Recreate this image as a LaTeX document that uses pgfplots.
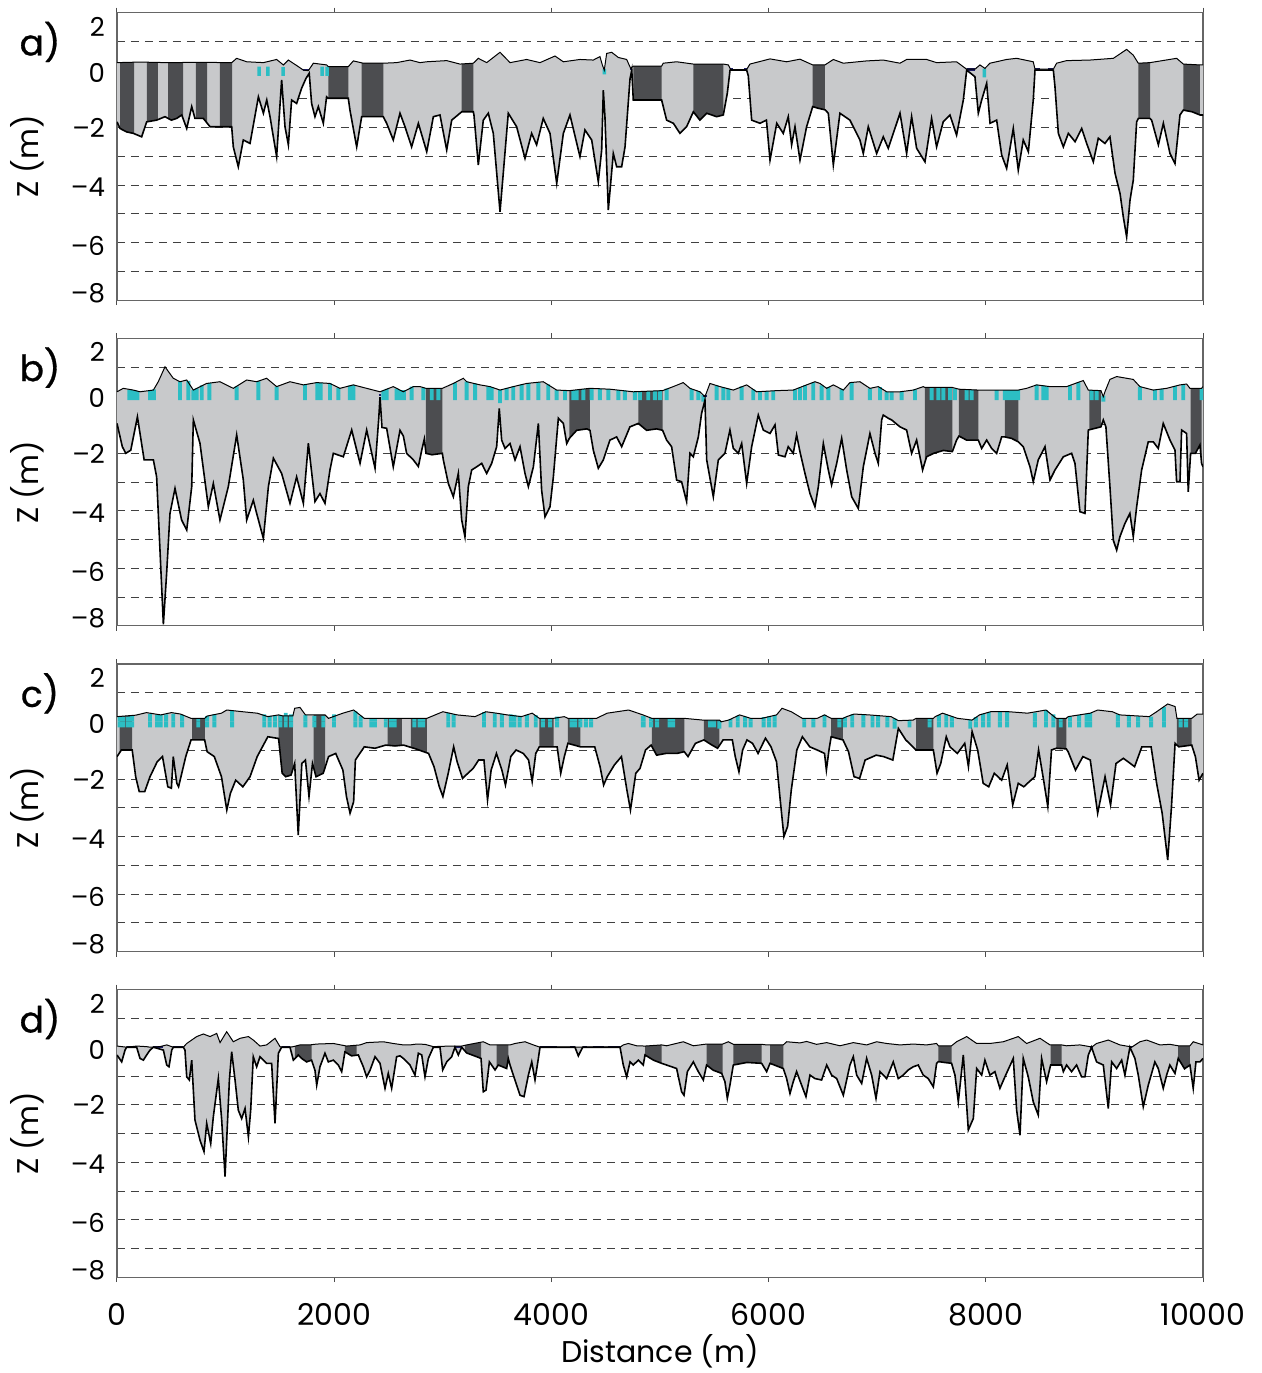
\documentclass[border=0pt]{standalone}
\usepackage{fontspec}
\setmainfont{Poppins}
\usepackage{pgfplots}
\usepackage{pgfplotstable}
\pgfplotsset{compat=1.18}
\usepgfplotslibrary{fillbetween}
\definecolor{iceL}{RGB}{200,201,203}
\definecolor{iceD}{RGB}{76,77,80}
\definecolor{pond}{RGB}{44,190,196}
\definecolor{lead}{RGB}{28,28,100}
\newcommand{\panlab}{\fontsize{18}{20}\selectfont\addfontfeature{FakeBold=0.8}}

\pgfplotsset{panel/.style={
  width=543pt, height=143.75pt, scale only axis,
  xmin=0, xmax=10000, ymin=-8, ymax=2,
  xtick={0,2000,4000,6000,8000,10000}, xticklabels={,,,,,},
  scaled x ticks=false, scaled y ticks=false,
  ytick={-7.75,-6.11,-4.08,-2.02,-0.09,1.51},
  yticklabels={–8,–6,–4,–2,0,2},
  minor ytick={-8,-7,...,2},
  yminorgrids=true,
  minor grid style={black!75, line width=0.45pt, dash pattern=on 4pt off 3pt},
  ytick style={draw=none}, minor tick length=0pt,
  tick align=outside, major tick length=2.5pt,
  xtick style={black!70, line width=0.5pt},
  axis line style={black!60, line width=0.6pt},
  yticklabel style={font=\fontsize{13}{15}\selectfont},
  xticklabel style={font=\fontsize{15}{18}\selectfont, yshift=-7pt},
  ylabel={Z (m)},
  every axis y label/.style={at={(axis description cs:-0.083,0.5)}, rotate=90, anchor=center, font=\fontsize{15}{18}\selectfont},
}}

% ---------------- panel a ----------------
\pgfplotstableread[row sep=\\]{x t\\0 0.26\\212 0.28\\458 0.26\\764 0.27\\1056 0.26\\1102 0.41\\1194 0.29\\1348 0.26\\1470 0.37\\1532 0.18\\1578 0.35\\1670 0.12\\1716 0.0\\1762 -0.02\\1808 0.24\\1931 0.18\\1946 0.12\\2130 0.12\\2176 0.32\\2268 0.24\\2452 0.24\\2575 0.26\\2698 0.35\\2790 0.26\\2852 0.29\\3036 0.33\\3158 0.21\\3281 0.24\\3327 0.41\\3404 0.26\\3527 0.62\\3619 0.26\\3772 0.37\\3895 0.26\\4033 0.49\\4110 0.29\\4263 0.37\\4386 0.35\\4447 0.47\\4469 0.18\\4487 0.0\\4509 0.58\\4555 0.62\\4616 0.44\\4693 0.37\\4730 0.06\\4754 0.14\\5015 0.14\\5030 0.24\\5153 0.29\\5307 0.21\\5583 0.21\\5629 0.18\\5650 0.02\\5798 0.02\\5828 0.21\\6013 0.39\\6166 0.29\\6289 0.38\\6406 0.18\\6519 0.18\\6596 0.37\\6688 0.24\\6903 0.32\\7056 0.35\\7210 0.24\\7271 0.37\\7455 0.37\\7547 0.26\\7731 0.29\\7824 0.03\\7900 0.03\\7946 0.18\\7992 0.06\\8038 0.24\\8192 0.37\\8284 0.41\\8437 0.29\\8453 0.03\\8622 0.03\\8652 0.24\\8744 0.33\\8959 0.35\\9174 0.41\\9297 0.72\\9358 0.52\\9404 0.24\\9512 0.26\\9757 0.41\\9819 0.21\\9972 0.18\\10000 0.18\\}\topA
\pgfplotstableread[row sep=\\]{x b\\0 -1.8\\28 -2.03\\89 -2.15\\151 -2.2\\227 -2.32\\273 -1.8\\365 -1.74\\442 -1.62\\500 -1.74\\550 -1.68\\596 -1.56\\642 -2.03\\688 -1.27\\718 -1.68\\795 -1.68\\857 -1.97\\949 -1.97\\1056 -1.97\\1071 -2.67\\1117 -3.36\\1163 -2.43\\1225 -2.55\\1302 -0.93\\1348 -1.5\\1379 -1.04\\1409 -1.62\\1470 -3.01\\1516 -0.34\\1547 -1.97\\1578 -2.6\\1608 -1.04\\1654 -1.16\\1700 -0.63\\1740 -0.29\\1770 -0.11\\1792 -1.16\\1823 -1.62\\1854 -1.27\\1900 -1.85\\1930 -0.93\\1946 -0.98\\2130 -0.98\\2145 -1.39\\2207 -2.67\\2253 -1.62\\2350 -1.62\\2452 -1.62\\2483 -1.85\\2544 -2.43\\2606 -1.5\\2652 -1.97\\2713 -2.67\\2775 -1.85\\2852 -2.84\\2913 -1.62\\2974 -1.56\\3036 -2.78\\3082 -1.74\\3174 -1.45\\3281 -1.45\\3287 -1.56\\3327 -3.3\\3373 -1.74\\3419 -1.5\\3465 -2.2\\3527 -4.93\\3603 -1.5\\3680 -1.97\\3757 -3.07\\3818 -2.2\\3864 -2.6\\3925 -1.68\\3987 -2.2\\4049 -3.94\\4110 -2.2\\4171 -1.56\\4263 -3.01\\4309 -2.08\\4371 -2.43\\4432 -3.88\\4463 -2.78\\4478 -0.7\\4493 -1.62\\4524 -4.87\\4570 -2.9\\4601 -3.36\\4647 -3.36\\4678 -2.67\\4724 -0.3\\4740 0.0\\4754 -1.04\\5015 -1.04\\5061 -1.74\\5123 -1.85\\5184 -2.2\\5245 -1.97\\5307 -1.45\\5368 -1.74\\5430 -1.5\\5522 -1.62\\5583 -1.56\\5620 -0.8\\5645 0.0\\5798 0.0\\5813 -0.2\\5844 -1.74\\5921 -1.85\\5980 -1.74\\6013 -3.13\\6075 -1.85\\6135 -2.2\\6181 -1.62\\6212 -2.6\\6243 -1.97\\6289 -3.13\\6350 -1.97\\6406 -1.27\\6460 -1.33\\6519 -1.38\\6550 -1.5\\6596 -3.3\\6657 -1.5\\6749 -1.74\\6841 -2.43\\6872 -2.9\\6918 -1.97\\6995 -2.9\\7056 -2.32\\7102 -2.72\\7210 -1.5\\7271 -2.9\\7317 -1.62\\7363 -2.72\\7440 -3.19\\7501 -1.68\\7547 -2.67\\7608 -1.8\\7670 -1.56\\7731 -2.26\\7793 -1.04\\7824 0.0\\7900 -0.23\\7931 -1.5\\7962 -1.04\\8008 -0.46\\8039 -1.85\\8100 -1.74\\8146 -2.95\\8192 -3.42\\8253 -2.03\\8299 -3.48\\8345 -2.43\\8392 -2.84\\8437 -1.04\\8453 0.0\\8622 0.0\\8637 -0.58\\8668 -2.2\\8714 -2.67\\8760 -2.2\\8822 -2.49\\8883 -2.03\\8929 -2.55\\8990 -3.19\\9036 -2.37\\9097 -2.55\\9143 -2.32\\9190 -3.59\\9236 -4.29\\9266 -5.1\\9297 -5.8\\9328 -4.52\\9358 -3.83\\9389 -1.8\\9405 -1.68\\9512 -1.68\\9527 -1.74\\9589 -2.6\\9635 -1.85\\9696 -2.9\\9742 -3.25\\9788 -1.56\\9819 -1.39\\9900 -1.45\\9972 -1.56\\10000 -1.56\\}\botA
\pgfplotstableread[row sep=\\]{x t b\\1308 0.12 -0.2\\1390 0.12 -0.2\\1529 0.1 -0.2\\1888 0.12 -0.2\\1934 0.12 -0.2\\4487 0.04 -0.15\\7987 0.05 -0.25\\}\pondA

% ---------------- panel b ----------------
\pgfplotstableread[row sep=\\]{x t\\0 0.14\\58 0.26\\150 0.2\\212 0.14\\335 0.2\\380 0.49\\442 1.01\\518 0.61\\580 0.49\\642 0.55\\703 0.2\\826 0.43\\948 0.49\\1071 0.26\\1194 0.55\\1286 0.49\\1378 0.61\\1470 0.32\\1593 0.49\\1716 0.38\\1839 0.46\\1961 0.43\\2053 0.26\\2176 0.38\\2299 0.26\\2422 0.14\\2544 0.32\\2636 0.14\\2729 0.32\\2790 0.32\\2845 0.26\\2996 0.26\\3097 0.43\\3189 0.61\\3220 0.49\\3343 0.38\\3435 0.32\\3527 0.2\\3649 0.32\\3772 0.43\\3925 0.49\\4048 0.2\\4165 0.18\\4355 0.26\\4539 0.23\\4754 0.14\\5024 0.18\\5122 0.32\\5214 0.46\\5276 0.26\\5368 0.14\\5414 -0.03\\5460 0.43\\5552 0.32\\5675 0.2\\5798 0.38\\5890 0.14\\6074 0.18\\6227 0.2\\6350 0.38\\6427 0.49\\6473 0.43\\6535 0.26\\6596 0.38\\6688 0.2\\6749 0.46\\6841 0.49\\6933 0.26\\7010 0.32\\7087 0.14\\7210 0.14\\7332 0.2\\7425 0.32\\7440 0.29\\7692 0.29\\7753 0.23\\7931 0.2\\8176 0.2\\8299 0.2\\8376 0.26\\8468 0.38\\8591 0.32\\8744 0.32\\8867 0.49\\8898 0.53\\8944 0.2\\9060 0.18\\9082 -0.03\\9097 0.14\\9143 0.57\\9205 0.67\\9358 0.57\\9419 0.32\\9542 0.2\\9665 0.26\\9788 0.38\\9849 0.41\\9880 0.26\\9987 0.26\\10000 0.32\\}\topB
\pgfplotstableread[row sep=\\]{x b\\0 -0.96\\49 -1.77\\81 -2.0\\127 -1.89\\188 -0.73\\250 -2.23\\335 -2.23\\365 -2.82\\427 -7.95\\457 -6.18\\488 -4.09\\534 -3.22\\595 -4.32\\642 -4.67\\688 -3.16\\703 -0.84\\764 -1.65\\841 -3.86\\887 -3.05\\948 -4.32\\1025 -3.16\\1102 -1.36\\1163 -2.92\\1194 -4.32\\1255 -3.63\\1286 -4.09\\1348 -4.96\\1394 -3.16\\1440 -2.17\\1516 -2.7\\1593 -3.74\\1654 -2.82\\1716 -3.74\\1762 -1.65\\1823 -3.68\\1869 -3.4\\1915 -3.74\\1961 -2.58\\1992 -2.0\\2084 -2.12\\2161 -1.19\\2238 -2.35\\2299 -1.19\\2376 -2.52\\2410 -0.8\\2422 -0.05\\2440 -1.1\\2483 -1.13\\2544 -2.47\\2606 -1.2\\2637 -1.4\\2667 -2.0\\2729 -2.23\\2775 -2.46\\2806 -1.89\\2830 -1.5\\2845 -2.0\\2900 -2.05\\2996 -2.0\\3005 -2.23\\3051 -3.05\\3097 -3.51\\3143 -2.7\\3174 -4.32\\3204 -4.9\\3235 -3.16\\3266 -2.58\\3312 -2.47\\3358 -2.35\\3404 -2.7\\3450 -2.35\\3496 -1.77\\3520 -0.44\\3542 -1.54\\3573 -1.83\\3619 -1.66\\3665 -2.23\\3711 -1.77\\3757 -2.7\\3788 -3.16\\3834 -2.47\\3880 -0.96\\3910 -3.28\\3941 -4.21\\3987 -3.86\\4018 -2.82\\4064 -0.78\\4110 -0.96\\4141 -1.66\\4165 -1.48\\4233 -1.2\\4325 -1.15\\4355 -1.2\\4386 -1.89\\4432 -2.52\\4478 -2.23\\4539 -1.54\\4601 -1.43\\4647 -1.77\\4723 -1.08\\4800 -0.96\\4877 -1.2\\4969 -1.15\\5024 -1.2\\5061 -1.54\\5107 -1.77\\5153 -2.93\\5199 -2.99\\5245 -3.68\\5276 -2.0\\5307 -2.12\\5353 -1.43\\5383 -0.61\\5414 -0.15\\5430 -2.23\\5491 -3.51\\5537 -2.23\\5598 -2.0\\5644 -1.19\\5675 -1.83\\5721 -2.0\\5752 -1.66\\5798 -3.05\\5844 -1.77\\5905 -0.67\\5951 -1.19\\6013 -1.31\\6059 -1.01\\6090 -2.06\\6151 -2.12\\6181 -1.77\\6227 -2.0\\6258 -1.36\\6289 -1.95\\6335 -2.7\\6381 -3.4\\6427 -3.86\\6458 -3.16\\6504 -1.66\\6550 -2.58\\6580 -3.1\\6627 -2.35\\6673 -1.48\\6719 -2.58\\6765 -3.51\\6826 -3.92\\6872 -2.47\\6933 -1.31\\6980 -2.0\\7010 -2.35\\7041 -0.84\\7056 -0.67\\7102 -0.78\\7133 -0.84\\7210 -1.08\\7271 -1.19\\7317 -2.0\\7363 -1.54\\7418 -2.58\\7440 -2.3\\7455 -2.12\\7520 -2.0\\7609 -1.9\\7692 -1.94\\7731 -1.54\\7753 -1.4\\7823 -1.54\\7931 -1.54\\7962 -1.83\\8008 -1.54\\8054 -1.83\\8100 -2.0\\8146 -1.43\\8176 -1.43\\8237 -1.48\\8299 -1.6\\8345 -1.77\\8407 -2.47\\8437 -2.99\\8483 -2.23\\8545 -1.77\\8591 -2.93\\8637 -2.58\\8714 -2.12\\8790 -2.0\\8821 -2.35\\8867 -4.03\\8913 -4.09\\8944 -1.19\\9060 -1.08\\9082 -0.84\\9106 -1.08\\9143 -3.16\\9174 -5.02\\9205 -5.37\\9235 -4.9\\9281 -4.44\\9327 -4.09\\9358 -4.9\\9389 -3.86\\9435 -2.58\\9496 -1.6\\9542 -1.6\\9588 -1.83\\9634 -0.96\\9696 -1.54\\9742 -1.89\\9757 -2.99\\9788 -2.99\\9803 -1.19\\9849 -1.31\\9864 -3.34\\9886 -2.0\\9930 -2.0\\9972 -1.71\\9987 -2.35\\10000 -2.47\\}\botB
\pgfplotstableread[row sep=\\]{x t b\\114 0.2 -0.15\\135 0.2 -0.15\\166 0.18 -0.15\\187 0.15 -0.15\\304 0.18 -0.15\\341 0.22 -0.15\\580 0.49 -0.15\\657 0.52 -0.15\\703 0.2 -0.15\\734 0.26 -0.15\\780 0.36 -0.15\\850 0.44 -0.15\\1102 0.33 -0.15\\1302 0.5 -0.15\\1470 0.32 -0.15\\1731 0.39 -0.15\\1845 0.46 -0.15\\1875 0.45 -0.15\\1961 0.43 -0.15\\2038 0.28 -0.15\\2145 0.35 -0.15\\2176 0.38 -0.15\\2452 0.18 -0.15\\2483 0.24 -0.15\\2575 0.25 -0.15\\2606 0.2 -0.15\\2643 0.2 -0.15\\2713 0.32 -0.15\\2821 0.28 -0.15\\2898 0.26 -0.15\\2959 0.26 -0.15\\3112 0.45 -0.15\\3220 0.49 -0.15\\3297 0.42 -0.15\\3419 0.33 -0.15\\3450 0.3 -0.15\\3527 0.2 -0.25\\3588 0.27 -0.15\\3649 0.32 -0.15\\3726 0.4 -0.15\\3788 0.44 -0.15\\3880 0.47 -0.15\\3971 0.4 -0.15\\4048 0.2 -0.15\\4125 0.18 -0.15\\4202 0.19 -0.15\\4233 0.2 -0.15\\4294 0.23 -0.15\\4370 0.26 -0.15\\4447 0.24 -0.15\\4524 0.23 -0.15\\4616 0.2 -0.15\\4677 0.18 -0.15\\4769 0.14 -0.15\\4815 0.15 -0.15\\4892 0.16 -0.15\\4953 0.17 -0.15\\4999 0.18 -0.15\\5061 0.25 -0.15\\5291 0.23 -0.15\\5353 0.16 -0.15\\5399 0.03 -0.2\\5521 0.35 -0.15\\5583 0.29 -0.15\\5629 0.24 -0.15\\5752 0.33 -0.15\\5859 0.22 -0.15\\5921 0.15 -0.15\\5982 0.16 -0.15\\6043 0.17 -0.15\\6243 0.22 -0.15\\6289 0.28 -0.15\\6335 0.36 -0.15\\6411 0.47 -0.15\\6488 0.36 -0.15\\6550 0.3 -0.15\\6673 0.24 -0.15\\6765 0.47 -0.15\\6933 0.26 -0.15\\7026 0.3 -0.15\\7087 0.14 -0.15\\7133 0.14 -0.15\\7225 0.14 -0.15\\7348 0.22 -0.15\\7501 0.29 -0.15\\7563 0.29 -0.15\\7609 0.29 -0.15\\7670 0.29 -0.15\\7716 0.25 -0.15\\7823 0.22 -0.15\\7870 0.21 -0.15\\8100 0.2 -0.15\\8176 0.2 -0.15\\8207 0.2 -0.15\\8238 0.2 -0.15\\8268 0.2 -0.15\\8299 0.2 -0.15\\8468 0.38 -0.15\\8529 0.35 -0.15\\8560 0.33 -0.15\\8775 0.35 -0.15\\8852 0.47 -0.15\\8975 0.19 -0.15\\9020 0.18 -0.15\\9082 0.0 -0.2\\9419 0.32 -0.15\\9558 0.21 -0.15\\9619 0.24 -0.15\\9742 0.34 -0.15\\9818 0.4 -0.15\\9987 0.26 -0.15\\}\pondB

% ---------------- panel c ----------------
\pgfplotstableread[row sep=\\]{x t\\0 0.17\\172 0.22\\271 0.31\\403 0.23\\501 0.31\\584 0.26\\682 0.11\\807 0.11\\830 0.19\\962 0.29\\1011 0.4\\1159 0.34\\1291 0.29\\1389 0.17\\1488 0.23\\1521 0.2\\1620 0.2\\1636 0.46\\1685 0.49\\1735 0.23\\1810 0.23\\1916 0.23\\1948 0.11\\2080 0.29\\2179 0.4\\2277 0.11\\2475 0.11\\2623 0.11\\2705 0.11\\2853 0.11\\2968 0.29\\3001 0.34\\3132 0.23\\3297 0.17\\3396 0.34\\3494 0.29\\3593 0.23\\3724 0.17\\3823 0.29\\3889 0.11\\4020 0.11\\4119 0.17\\4152 0.11\\4267 0.11\\4415 0.11\\4514 0.29\\4711 0.4\\4843 0.23\\4925 0.11\\5054 0.11\\5224 0.11\\5394 0.05\\5547 0.05\\5564 -0.01\\5632 0.05\\5733 0.23\\5835 0.11\\5937 0.11\\6073 0.23\\6124 0.46\\6209 0.34\\6311 0.11\\6447 0.11\\6515 0.23\\6576 0.11\\6685 0.11\\6719 0.17\\6787 0.26\\6923 0.23\\7127 0.17\\7195 0.03\\7331 0.05\\7358 0.11\\7517 0.11\\7534 0.17\\7602 0.29\\7740 0.11\\7874 0.05\\7942 0.23\\8044 0.34\\8214 0.34\\8384 0.29\\8554 0.4\\8649 0.11\\8741 0.11\\8758 0.17\\8962 0.29\\9030 0.4\\9166 0.34\\9233 0.23\\9505 0.17\\9573 0.34\\9675 0.61\\9743 0.52\\9760 0.11\\9896 0.11\\9947 0.26\\10000 0.26\\}\topC
\pgfplotstableread[row sep=\\]{x b\\0 -1.22\\41 -0.99\\140 -0.99\\172 -1.92\\205 -2.44\\255 -2.44\\304 -1.92\\370 -1.4\\419 -1.22\\468 -2.27\\501 -2.32\\518 -1.22\\551 -2.15\\567 -2.27\\633 -1.22\\682 -0.64\\807 -0.64\\830 -1.05\\896 -1.22\\962 -1.92\\1011 -3.08\\1044 -2.5\\1093 -2.04\\1159 -2.27\\1225 -1.92\\1291 -1.22\\1389 -0.53\\1488 -0.59\\1521 -1.8\\1554 -1.92\\1603 -1.86\\1636 -1.46\\1669 -3.95\\1702 -1.46\\1735 -1.34\\1768 -2.61\\1800 -1.46\\1833 -1.92\\1899 -1.8\\1948 -1.22\\2014 -1.11\\2080 -1.69\\2113 -2.61\\2146 -3.19\\2179 -2.79\\2195 -1.34\\2277 -0.88\\2376 -0.93\\2475 -0.82\\2560 -0.85\\2639 -0.82\\2750 -0.95\\2869 -1.11\\2919 -1.57\\2968 -2.27\\3001 -2.61\\3050 -1.8\\3100 -0.88\\3132 -1.4\\3182 -1.98\\3231 -1.8\\3280 -1.63\\3330 -1.34\\3379 -1.34\\3412 -2.73\\3445 -1.69\\3494 -1.11\\3544 -1.69\\3577 -2.21\\3626 -1.22\\3675 -0.99\\3741 -1.11\\3790 -1.34\\3823 -2.09\\3856 -1.11\\3889 -0.88\\4053 -0.88\\4086 -1.8\\4119 -1.22\\4152 -0.76\\4267 -0.88\\4399 -0.88\\4448 -1.57\\4481 -2.21\\4514 -1.92\\4580 -1.51\\4645 -1.22\\4695 -2.38\\4728 -3.08\\4777 -1.8\\4816 -1.63\\4867 -0.99\\4918 -0.82\\4969 -1.17\\5054 -1.11\\5156 -1.11\\5224 -1.05\\5258 -1.22\\5326 -0.76\\5404 -0.64\\5470 -0.8\\5530 -0.93\\5581 -0.64\\5666 -0.64\\5693 -1.22\\5727 -1.75\\5761 -0.99\\5801 -0.64\\5852 -0.76\\5903 -1.11\\5971 -0.58\\6022 -0.88\\6073 -1.4\\6107 -2.73\\6141 -4.0\\6175 -3.65\\6209 -2.38\\6260 -0.99\\6311 -0.53\\6379 -0.88\\6447 -0.99\\6515 -1.11\\6532 -1.69\\6556 -0.99\\6576 -0.53\\6685 -0.64\\6736 -1.05\\6787 -1.92\\6838 -1.98\\6889 -1.34\\6991 -1.17\\7059 -1.22\\7144 -1.34\\7195 -0.24\\7263 -0.64\\7358 -0.99\\7517 -0.99\\7551 -1.8\\7585 -1.46\\7636 -0.53\\7670 -0.88\\7738 -1.11\\7806 -0.76\\7840 -1.57\\7874 -0.35\\7925 -0.99\\7976 -2.15\\8027 -2.27\\8078 -1.8\\8146 -2.04\\8197 -1.51\\8248 -2.9\\8299 -2.15\\8350 -2.27\\8401 -2.09\\8452 -1.92\\8486 -0.99\\8537 -2.15\\8571 -2.96\\8605 -0.99\\8649 -0.93\\8741 -0.95\\8758 -1.05\\8826 -1.69\\8894 -1.22\\8962 -1.34\\9030 -3.19\\9098 -1.92\\9149 -2.9\\9199 -1.46\\9267 -1.28\\9370 -1.57\\9437 -0.88\\9522 -0.88\\9573 -2.15\\9624 -3.19\\9675 -4.82\\9709 -3.01\\9743 -0.76\\9777 -0.88\\9896 -0.82\\9930 -1.22\\9964 -2.04\\10000 -1.8\\}\botC
\pgfplotstableread[row sep=\\]{x t b\\24 0.17 -0.2\\57 0.17 -0.2\\100 0.17 -0.2\\140 0.2 -0.2\\304 0.27 -0.2\\370 0.23 -0.2\\403 0.22 -0.2\\452 0.25 -0.2\\518 0.27 -0.2\\600 0.23 -0.2\\748 0.11 -0.2\\830 0.19 -0.2\\896 0.25 -0.2\\1060 0.36 -0.2\\1356 0.25 -0.2\\1406 0.2 -0.2\\1455 0.2 -0.2\\1504 0.22 -0.2\\1554 0.3 -0.2\\1603 0.25 -0.2\\1735 0.22 -0.2\\1817 0.2 -0.2\\1899 0.2 -0.2\\1998 0.25 -0.2\\2195 0.35 -0.2\\2244 0.2 -0.2\\2343 0.11 -0.2\\2376 0.11 -0.2\\2475 0.11 -0.2\\2524 0.11 -0.2\\2557 0.11 -0.2\\2738 0.11 -0.2\\2787 0.11 -0.2\\2820 0.11 -0.2\\3050 0.3 -0.2\\3100 0.25 -0.2\\3379 0.33 -0.2\\3478 0.28 -0.2\\3544 0.27 -0.2\\3626 0.25 -0.2\\3659 0.23 -0.2\\3708 0.2 -0.2\\3774 0.23 -0.2\\3856 0.22 -0.2\\3922 0.11 -0.2\\3988 0.11 -0.2\\4053 0.17 -0.2\\4185 0.11 -0.2\\4218 0.11 -0.2\\4267 0.11 -0.2\\4317 0.11 -0.2\\4366 0.11 -0.2\\4843 0.2 -0.2\\4850 0.15 -0.2\\4918 0.12 -0.2\\4974 0.12 -0.2\\5088 0.11 -0.2\\5122 0.11 -0.2\\5462 0.05 -0.2\\5496 0.05 -0.2\\5547 0.03 -0.25\\5649 0.08 -0.2\\5716 0.2 -0.2\\5784 0.17 -0.2\\5835 0.11 -0.2\\5954 0.15 -0.2\\6005 0.18 -0.2\\6056 0.22 -0.2\\6328 0.11 -0.2\\6413 0.11 -0.2\\6515 0.23 -0.2\\6651 0.11 -0.2\\6702 0.14 -0.2\\6770 0.25 -0.2\\6872 0.24 -0.2\\6957 0.2 -0.2\\7008 0.19 -0.2\\7093 0.18 -0.2\\7161 0.1 -0.25\\7297 0.05 -0.2\\7483 0.11 -0.2\\7568 0.22 -0.2\\7636 0.25 -0.2\\7687 0.17 -0.2\\7857 0.06 -0.25\\7908 0.15 -0.2\\7976 0.27 -0.2\\8027 0.33 -0.2\\8129 0.34 -0.2\\8197 0.35 -0.2\\8452 0.31 -0.2\\8554 0.4 -0.2\\8622 0.25 -0.2\\8690 0.11 -0.2\\8775 0.18 -0.2\\8860 0.22 -0.2\\8928 0.27 -0.2\\8962 0.29 -0.2\\9216 0.25 -0.2\\9318 0.2 -0.2\\9403 0.18 -0.2\\9522 0.17 -0.2\\9641 0.5 -0.2\\9794 0.11 -0.2\\9845 0.11 -0.2\\}\pondC

% ---------------- panel d ----------------
\pgfplotstableread[row sep=\\]{x t\\0 0.04\\89 0\\181 0.04\\273 0.02\\304 0\\396 0.02\\458 0.08\\519 0\\611 0\\642 0.13\\734 0.37\\795 0.46\\857 0.37\\918 0.48\\949 0.16\\1010 0.54\\1071 0.19\\1133 0.31\\1210 0.37\\1255 0.25\\1317 0.04\\1378 0.08\\1455 0.31\\1501 0.02\\1516 0\\1593 0\\1624 0.02\\1685 0.08\\1777 0.08\\1839 0.11\\1992 0.13\\2115 0.04\\2238 0.08\\2299 0.16\\2452 0.19\\2544 0.13\\2636 0.08\\2698 0.08\\2760 0.11\\2836 0.1\\2913 0.02\\3066 0.04\\3174 0.04\\3220 0.08\\3373 0.19\\3435 0.08\\3496 0.08\\3619 0.08\\3665 0.13\\3757 0.19\\3834 0.08\\3895 0.0\\4632 0.0\\4662 0.08\\4708 0.13\\4785 0.05\\4862 0.04\\5015 0.08\\5061 0.05\\5215 0.19\\5307 0.05\\5429 0.11\\5577 0.11\\5629 0.19\\5675 0.1\\5936 0.1\\5982 0.08\\6135 0.08\\6166 0.19\\6289 0.15\\6350 0.2\\6442 0.1\\6535 0.16\\6657 0.05\\6780 0.16\\6903 0.08\\6995 0.19\\7087 0.13\\7210 0.08\\7332 0.11\\7455 0.08\\7547 0.13\\7563 0.05\\7685 0.05\\7731 0.19\\7824 0.37\\7916 0.13\\8038 0.13\\8161 0.19\\8299 0.37\\8376 0.13\\8499 0.31\\8591 0.08\\8698 0.08\\8744 0.05\\8867 0.08\\8959 0.02\\8974 0\\9020 0.13\\9128 0.25\\9235 0.08\\9327 0.02\\9343 0\\9419 0.19\\9481 0.25\\9603 0.08\\9695 0.1\\9772 0.05\\9880 0.05\\9910 0.19\\10000 0.08\\}\topD
\pgfplotstableread[row sep=\\]{x b\\0 -0.27\\43 -0.51\\74 -0.1\\89 0\\181 0\\212 -0.39\\243 -0.45\\273 -0.27\\304 -0.1\\335 0\\427 -0.1\\458 -0.62\\479 -0.68\\504 -0.1\\519 0\\611 0\\626 -0.1\\642 -1.03\\666 -1.14\\688 -0.45\\718 -2.53\\764 -3.23\\801 -3.63\\826 -2.65\\863 -3.35\\887 -2.42\\933 -1.09\\964 -2.53\\995 -4.5\\1035 -1.14\\1056 -0.16\\1087 -1.14\\1117 -2.19\\1148 -2.48\\1179 -2.13\\1210 -3.12\\1231 -2.19\\1255 -0.33\\1286 -0.68\\1317 -0.33\\1378 -0.56\\1424 -0.56\\1455 -2.65\\1486 -0.21\\1516 0\\1593 0\\1624 -0.45\\1670 -0.27\\1700 -0.39\\1746 -0.51\\1792 -0.45\\1823 -0.8\\1839 -1.32\\1869 -0.68\\1915 -0.21\\1946 -0.51\\1992 -0.45\\2038 -0.62\\2069 -0.85\\2099 -0.16\\2160 -0.3\\2222 -0.27\\2268 -0.68\\2299 -1.03\\2330 -0.8\\2376 -0.33\\2422 -0.56\\2468 -1.43\\2498 -0.91\\2529 -1.43\\2575 -0.33\\2606 -0.3\\2637 -0.39\\2698 -0.62\\2744 -0.97\\2775 -0.21\\2806 -0.27\\2836 -1.03\\2867 -0.39\\2913 0\\2974 0\\2999 -0.79\\3036 -0.51\\3082 -0.33\\3112 0\\3143 -0.27\\3174 0\\3220 -0.2\\3312 -0.33\\3352 -0.39\\3373 -1.55\\3398 -1.49\\3429 -0.51\\3481 -0.79\\3511 -0.62\\3588 -0.74\\3603 -0.39\\3619 -0.62\\3680 -1.32\\3711 -1.67\\3748 -1.72\\3788 -0.97\\3819 -0.51\\3849 -1.14\\3880 -0.39\\3895 0\\4217 0\\4248 -0.3\\4288 0\\4632 0\\4662 -0.62\\4693 -1.03\\4724 -0.51\\4754 -0.62\\4800 -0.45\\4846 -0.62\\4862 -0.27\\4940 -0.45\\5015 -0.56\\5061 -0.62\\5107 -0.68\\5153 -0.74\\5199 -1.55\\5221 -1.67\\5252 -0.85\\5307 -0.51\\5353 -0.85\\5399 -1.14\\5429 -0.62\\5490 -0.8\\5568 -0.91\\5598 -1.2\\5620 -1.78\\5644 -1.32\\5675 -0.62\\5800 -0.53\\5936 -0.56\\5982 -0.85\\6013 -0.56\\6135 -0.74\\6166 -1.09\\6197 -1.61\\6227 -1.2\\6258 -0.85\\6304 -1.32\\6344 -1.72\\6381 -0.97\\6427 -1.09\\6488 -1.14\\6535 -0.62\\6580 -0.97\\6627 -1.09\\6688 -1.67\\6749 -0.62\\6780 -0.33\\6811 -0.97\\6857 -1.26\\6903 -0.39\\6949 -0.97\\6989 -1.78\\7026 -0.85\\7087 -1.09\\7148 -0.51\\7194 -1.09\\7240 -0.97\\7286 -0.79\\7332 -0.68\\7378 -0.62\\7424 -0.97\\7470 -1.09\\7517 -1.38\\7547 -0.56\\7563 -0.5\\7620 -0.53\\7685 -0.56\\7716 -0.97\\7747 -1.9\\7793 -0.27\\7839 -2.88\\7885 -2.48\\7916 -0.74\\7962 -0.97\\7992 -0.45\\8038 -0.97\\8084 -0.85\\8130 -1.43\\8176 -1.03\\8253 -0.39\\8284 -2.19\\8315 -3.06\\8345 -0.39\\8391 -1.03\\8437 -1.9\\8483 -2.36\\8514 -0.39\\8560 -1.2\\8597 -0.62\\8698 -0.62\\8714 -0.85\\8744 -0.62\\8790 -0.85\\8836 -0.62\\8882 -1.03\\8913 -1.03\\8944 -0.27\\8974 0\\9020 -0.51\\9082 -0.62\\9128 -2.13\\9159 -0.51\\9205 -0.74\\9251 -0.45\\9281 -0.97\\9327 0\\9373 -0.39\\9404 -0.97\\9450 -2.07\\9496 -1.32\\9557 -0.51\\9588 -0.74\\9634 -1.43\\9665 -0.97\\9695 -0.62\\9742 -0.91\\9772 -0.39\\9830 -0.75\\9880 -0.62\\9910 -1.43\\9935 -0.51\\9972 -0.51\\10000 -0.39\\}\botD

\begin{document}
\begin{tikzpicture}

% ===== a =====
\begin{axis}[panel, at={(0pt,0pt)}, anchor=north west,
  extra description/.code={\node[font=\panlab] at (-0.0709,0.898) {a)};}]
\addplot[name path=Ta, draw=none] table[x=x,y=t]{\topA};
\addplot[name path=Ba, draw=none] table[x=x,y=b]{\botA};
\addplot[fill=iceL, draw=none] fill between[of=Ta and Ba];
\pgfplotsinvokeforeach{28:157,276:377,470:608,727:829,948:1059,1946:2130,2253:2452,3174:3281,4754:5015,5307:5583,6406:6519,9405:9512,9819:9972}{
  \addplot[fill=iceD, draw=none] fill between[of=Ta and Ba, soft clip={domain=#1}];
}
\addplot[ybar, bar width=32, fill=pond, draw=none] table[x=x,y=t]{\pondA};
\addplot[ybar, bar width=32, fill=pond, draw=none] table[x=x,y=b]{\pondA};
\addplot[lead, line width=1.2pt, unbounded coords=jump] coordinates {(1716,0)(1770,0)(1780,nan)(4722,0.03)(4745,0.03)(4750,nan)(5645,0.02)(5668,0.02)(5670,nan)(5778,0.02)(5800,0.02)(5805,nan)(7824,0.02)(7900,0.02)(7905,nan)(8453,0.02)(8495,0.02)(8500,nan)(8575,0.02)(8622,0.02)};
\addplot[black, line width=0.5pt] table[x=x,y=t]{\topA};
\addplot[black, line width=0.8pt] table[x=x,y=b]{\botA};
\end{axis}

% ===== b =====
\begin{axis}[panel, at={(0pt,-162.85pt)}, anchor=north west,
  extra description/.code={\node[font=\panlab] at (-0.0709,0.898) {b)};}]
\addplot[name path=Tb, draw=none] table[x=x,y=t]{\topB};
\addplot[name path=Bb, draw=none] table[x=x,y=b]{\botB};
\addplot[fill=iceL, draw=none] fill between[of=Tb and Bb];
\pgfplotsinvokeforeach{2845:2996,4165:4355,4800:5024,7440:7692,7753:7931,8176:8299,8953:9060,9886:9987}{
  \addplot[fill=iceD, draw=none] fill between[of=Tb and Bb, soft clip={domain=#1}];
}
\addplot[ybar, bar width=36, fill=pond, draw=none] table[x=x,y=t]{\pondB};
\addplot[ybar, bar width=36, fill=pond, draw=none] table[x=x,y=b]{\pondB};
\addplot[lead, line width=1.2pt, unbounded coords=jump] coordinates {(2412,0.02)(2432,0.02)(2440,nan)(5400,0)(5430,0)};
\addplot[black, line width=0.5pt] table[x=x,y=t]{\topB};
\addplot[black, line width=0.8pt] table[x=x,y=b]{\botB};
\end{axis}

% ===== c =====
\begin{axis}[panel, at={(0pt,-325.7pt)}, anchor=north west,
  extra description/.code={\node[font=\panlab] at (-0.0709,0.898) {c)};}]
\addplot[name path=Tc, draw=none] table[x=x,y=t]{\topC};
\addplot[name path=Bc, draw=none] table[x=x,y=b]{\botC};
\addplot[fill=iceL, draw=none] fill between[of=Tc and Bc];
\pgfplotsinvokeforeach{24:140,692:807,1488:1620,1810:1916,2491:2623,2705:2853,3889:4020,4152:4267,4925:5224,5404:5547,6576:6685,7358:7517,8649:8741,9760:9896}{
  \addplot[fill=iceD, draw=none] fill between[of=Tc and Bc, soft clip={domain=#1}];
}
\addplot[ybar, bar width=36, fill=pond, draw=none] table[x=x,y=t]{\pondC};
\addplot[ybar, bar width=36, fill=pond, draw=none] table[x=x,y=b]{\pondC};
\addplot[black, line width=0.5pt] table[x=x,y=t]{\topC};
\addplot[black, line width=0.8pt] table[x=x,y=b]{\botC};
\end{axis}

% ===== d =====
\begin{axis}[panel, at={(0pt,-488.55pt)}, anchor=north west,
  xticklabels={0,2000,4000,6000,8000,10000},
  xlabel={Distance (m)},
  every axis x label/.style={at={(axis description cs:0.5,-0.257)}, anchor=center, font=\fontsize{15}{18}\selectfont},
  extra description/.code={\node[font=\panlab] at (-0.0709,0.898) {d)};}]
\addplot[name path=Td, draw=none] table[x=x,y=t]{\topD};
\addplot[name path=Bd, draw=none] table[x=x,y=b]{\botD};
\addplot[fill=iceL, draw=none] fill between[of=Td and Bd];
\pgfplotsinvokeforeach{1639:1792,2099:2207,3204:3352,3496:3603,4862:5015,5429:5577,5675:5936,6013:6135,7563:7685,8597:8698,9772:9880}{
  \addplot[fill=iceD, draw=none] fill between[of=Td and Bd, soft clip={domain=#1}];
}
\addplot[lead, line width=1.2pt, unbounded coords=jump] coordinates {(89,0)(181,0)(200,nan)(335,0)(427,0)(440,nan)(519,0)(611,0)(620,nan)(1516,0)(1593,0)(1600,nan)(2913,0)(2974,0)(2980,nan)(3100,0)(3174,0)(3180,nan)(3895,0)(4050,0)(4060,nan)(4170,0)(4215,0)(4220,nan)(4290,0)(4330,0)(4340,nan)(4380,0)(4480,0)(4490,nan)(4520,0)(4632,0)(4640,nan)(8955,0)(8990,0)(9000,nan)(9320,0)(9350,0)};
\addplot[black, line width=0.5pt] table[x=x,y=t]{\topD};
\addplot[black, line width=0.8pt] table[x=x,y=b]{\botD};
\end{axis}

\pgfresetboundingbox
\path[use as bounding box] (-58.5pt,6.3pt) rectangle (572.5pt,-680.2pt);
\end{tikzpicture}
\end{document}
